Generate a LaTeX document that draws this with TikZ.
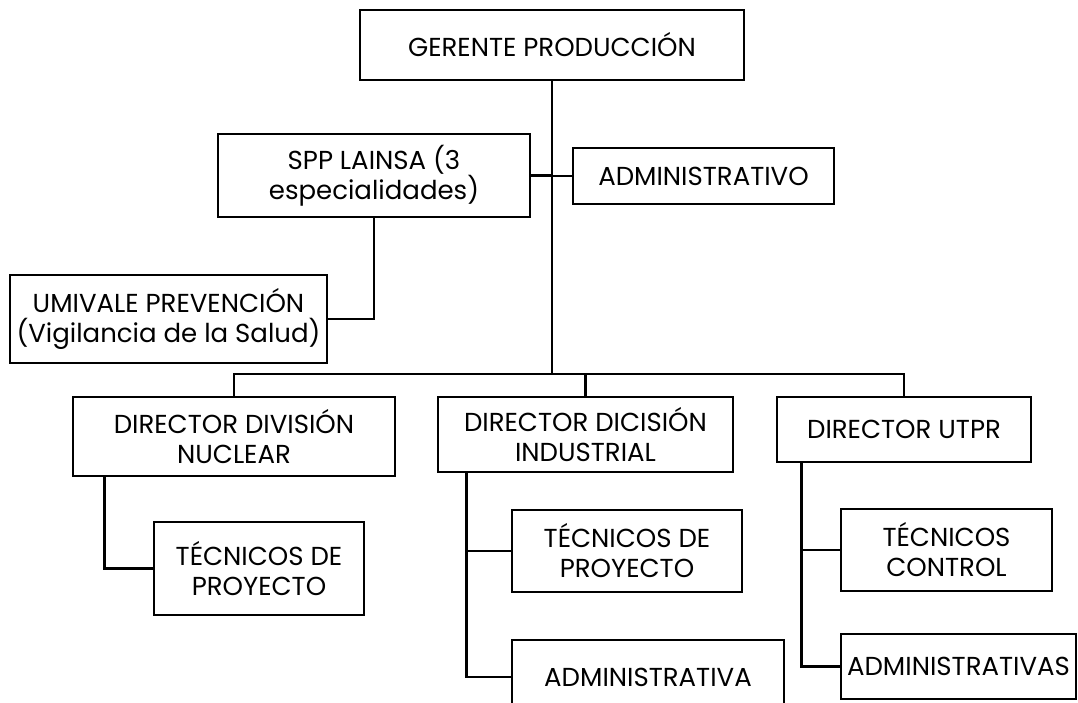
\documentclass[tikz,border=0pt]{standalone}
\usepackage{fontspec}
\setmainfont{Poppins}

\begin{document}
\begin{tikzpicture}[
    x=1pt, y=-1pt,
    box/.style={rectangle, draw=black, line width=2.8pt, fill=white,
        align=center, inner sep=0pt, font=\fontsize{26}{30}\selectfont},
    link/.style={line width=2.8pt, -}
]
    \useasboundingbox (0,0) rectangle (1078,702);
    \coordinate (bus) at (552,374);
    \draw[link] (552,80) -- (bus);
    \node[box, minimum width=384, minimum height=70] (ger) at (552,45) {GERENTE PRODUCCIÓN};
    \node[box, minimum width=312, minimum height=83] (spp) at (374,175.5) {SPP LAINSA (3\\especialidades)};
    \node[box, minimum width=261, minimum height=56] (adm) at (703.5,176) {ADMINISTRATIVO};
    \node[box, minimum width=317, minimum height=88] (umi) at (168.5,319) {UMIVALE PREVENCIÓN\\(Vigilancia de la Salud)};
    \node[box, minimum width=322, minimum height=79] (nuc) at (234,436.5) {DIRECTOR DIVISIÓN\\NUCLEAR};
    \node[box, minimum width=295, minimum height=75] (ind) at (585.5,434.5) {DIRECTOR DICISIÓN\\INDUSTRIAL};
    \node[box, minimum width=254, minimum height=65] (utpr) at (904,429.5) {DIRECTOR UTPR};
    \node[box, minimum width=210, minimum height=93] (tec1) at (259,568.5) {TÉCNICOS DE\\PROYECTO};
    \node[box, minimum width=230, minimum height=82] (tec2) at (627,551) {TÉCNICOS DE\\PROYECTO};
    \node[box, minimum width=272, minimum height=74] (adma) at (648,677) {ADMINISTRATIVA};
    \node[box, minimum width=211, minimum height=82] (tecc) at (946.5,550) {TÉCNICOS\\CONTROL};
    \node[box, minimum width=235, minimum height=65] (admas) at (958.5,666.5) {ADMINISTRATIVAS};
    \draw[link] (ger.south) -- (bus);
    \draw[link] (spp.east) -- (spp.east -| bus);
    \draw[link] (adm.west) -- (adm.west -| bus);
    \draw[link] (spp.south) |- (umi.east);
    \draw[link] (nuc.north) |- (bus) -| (utpr.north);
    \draw[link] (ind.north) -- (ind.north |- bus);
    \draw[link] ([xshift=33]nuc.south west) |- (tec1.west);
    \draw[link] ([xshift=30]ind.south west) |- (tec2.west);
    \draw[link] ([xshift=30]ind.south west) |- (adma.west);
    \draw[link] ([xshift=26]utpr.south west) |- (tecc.west);
    \draw[link] ([xshift=26]utpr.south west) |- (admas.west);
\end{tikzpicture}
\end{document}
